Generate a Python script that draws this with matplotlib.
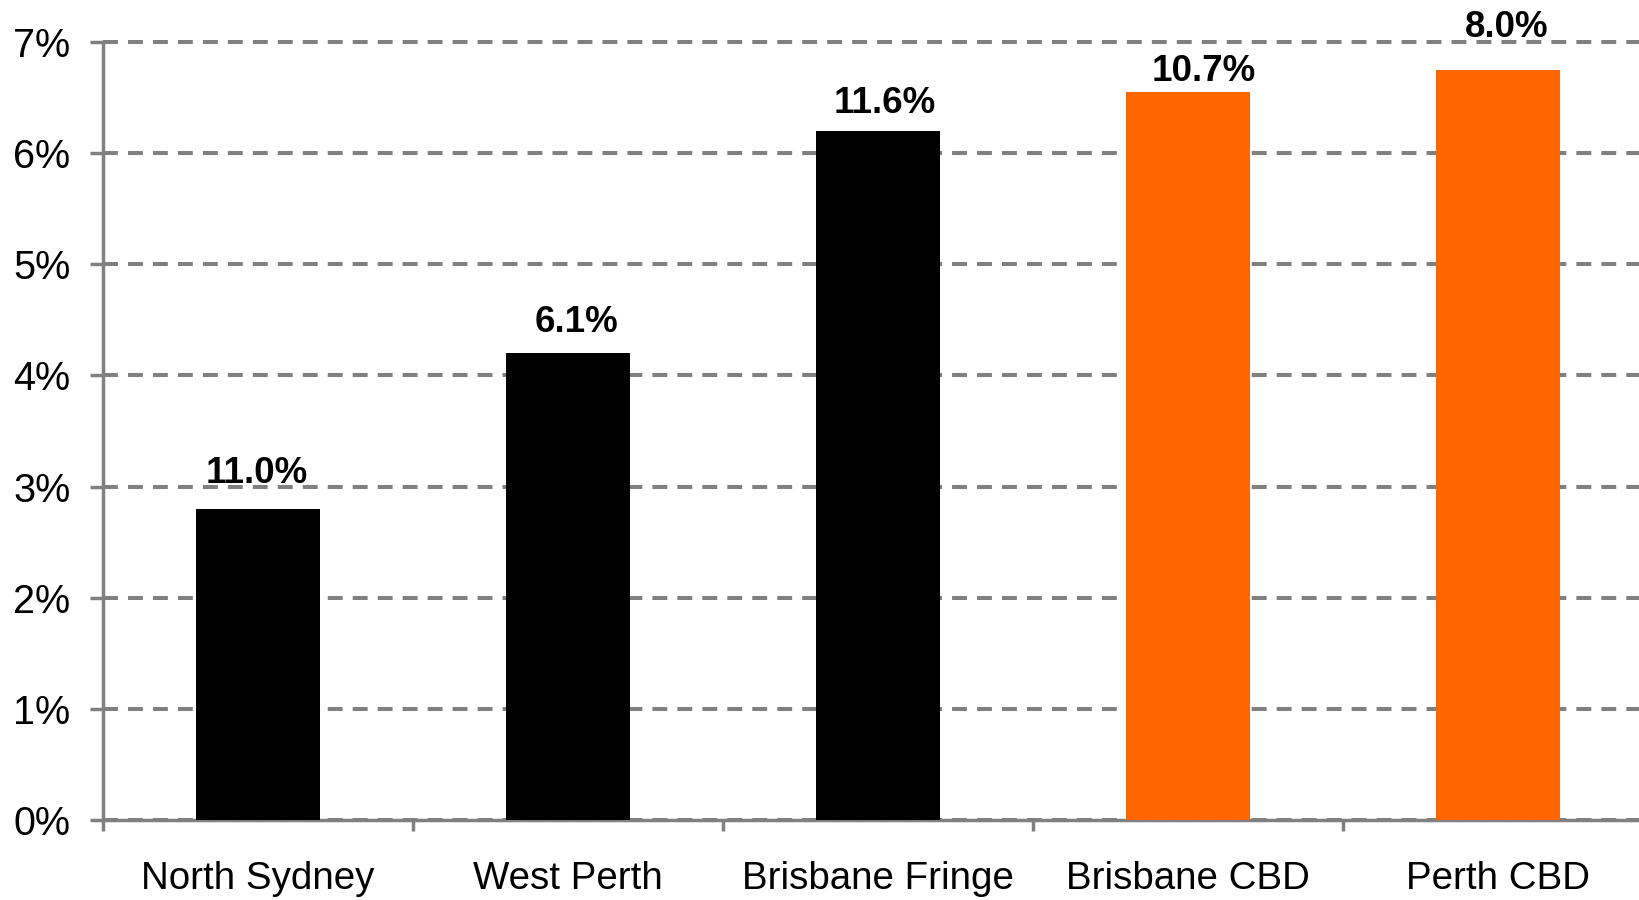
import matplotlib
matplotlib.use("Agg")
import matplotlib.pyplot as plt
import numpy as np

categories = ["North Sydney", "West Perth", "Brisbane Fringe", "Brisbane CBD", "Perth CBD"]
values = [2.8, 4.2, 6.2, 6.55, 6.75]
labels = ["11.0%", "6.1%", "11.6%", "10.7%", "8.0%"]
colors = ["#000000", "#000000", "#000000", "#FF6600", "#FF6600"]
# label offsets in pixels (dx, dy of baseline above bar top)
label_dx = [-1, 8, 7, 16, 9]
label_dy = [26, 21, 18, 11, 33]
yticks = [0, 1, 2, 3, 4, 5, 6, 7]

plt.rcParams['font.family'] = ['Liberation Sans', 'DejaVu Sans']

fig = plt.figure(figsize=(16.39, 9.0), dpi=100)
ax = fig.add_axes([103/1639, 80/900, 1550/1639, 778/900])

x = np.arange(len(categories))
ax.bar(x, values, width=0.4, color=colors, zorder=3)

ax.set_xlim(-0.5, len(categories) - 0.5)
ax.set_ylim(0, 7)

gray = "#808080"
ax.set_yticks(yticks)
ax.set_yticklabels([f"{v}%" for v in yticks])
ax.yaxis.grid(True, color=gray, linewidth=2.9, linestyle=(0, (3.7, 2.5)), zorder=1)
ax.set_axisbelow(True)

ax.set_xticks(np.arange(-0.5, len(categories) + 0.5, 1.0))
ax.set_xticklabels([])
ax.set_xticks(x, minor=True)
ax.set_xticklabels(categories, minor=True)
ax.tick_params(axis='x', which='minor', length=0, pad=29.5, labelsize=27.7)
ax.tick_params(axis='x', which='major', length=8, width=2.5, color=gray)
ax.tick_params(axis='y', length=9.4, width=2.5, color=gray, pad=14, labelsize=28.5)

for side in ['top', 'right']:
    ax.spines[side].set_visible(False)
for side in ['left', 'bottom']:
    ax.spines[side].set_color(gray)
    ax.spines[side].set_linewidth(2.5)

for gl in ax.get_ygridlines():
    gl.set_clip_on(False)

for xi, v, lab, dx, dy in zip(x, values, labels, label_dx, label_dy):
    ax.annotate(lab, xy=(xi, v), xytext=(dx, dy), textcoords='offset pixels',
                ha='center', va='baseline', fontsize=26.5, fontweight='bold',
                annotation_clip=False, clip_on=False, zorder=5)

fig.savefig("out.png", dpi=100)
